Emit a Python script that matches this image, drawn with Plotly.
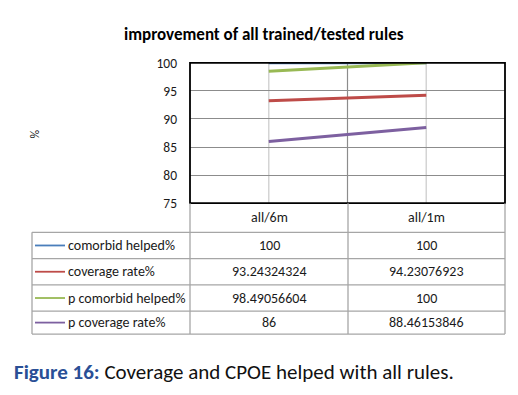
import plotly.graph_objects as go

# page body has an 8px margin; size figure so the page is exactly 518x395
OFF = 8
W, H = 518 - 2 * OFF, 395 - 2 * OFF

categories = ["all/6m", "all/1m"]
series_names = ["comorbid helped%", "coverage rate%", "p comorbid helped%", "p coverage rate%"]
comorbid_helped = [100, 100]
coverage_rate = [93.24324324, 94.23076923]
p_comorbid_helped = [98.49056604, 100]
p_coverage_rate = [86, 88.46153846]
y_ticks = [75, 80, 85, 90, 95, 100]

series_values = [comorbid_helped, coverage_rate, p_comorbid_helped, p_coverage_rate]
colors = ["#4a7ebb", "#be4b48", "#98b954", "#7d60a0"]

FONT = "Carlito, Lato"

# plot area in page pixels
PL, PR, PT, PB = 190, 505, 57, 204


def px(x):
    return (x - OFF) / W


def py(y):
    return 1 - (y - OFF) / H


fig = go.Figure()
for name, vals, c in zip(series_names, series_values, colors):
    fig.add_trace(go.Scatter(x=categories, y=vals, mode="lines", name=name,
                             line=dict(color=c, width=3), cliponaxis=False))

shapes = []
# vertical gridlines inside plot
for xv in [0, 1]:
    shapes.append(dict(type="line", xref="x", yref="paper", x0=xv, x1=xv,
                       y0=py(PB), y1=py(PT), line=dict(color="#d4d4d4", width=1.5), layer="below"))
shapes.append(dict(type="line", xref="x", yref="paper", x0=0.5, x1=0.5,
                   y0=py(PB), y1=py(PT), line=dict(color="#8c8c8c", width=1.2), layer="below"))
# plot border
shapes.append(dict(type="rect", xref="paper", yref="paper", x0=px(PL), x1=px(PR),
                   y0=py(PB), y1=py(PT), line=dict(color="#000000", width=1.8)))

# table
TL = 32
col_x = [TL, PL, 348, PR]
row_y = [PB, 234.5, 262, 289.5, 317, 341]
tcol = "#a6a6a6"
for i, yv in enumerate(row_y):
    if i == 0:
        continue
    shapes.append(dict(type="line", xref="paper", yref="paper", x0=px(TL), x1=px(PR),
                       y0=py(yv), y1=py(yv), line=dict(color=tcol, width=1.3)))
for j, xv in enumerate(col_x):
    y0 = row_y[1] if j == 0 else row_y[0]
    shapes.append(dict(type="line", xref="paper", yref="paper", x0=px(xv), x1=px(xv),
                       y0=py(y0), y1=py(row_y[-1]), line=dict(color=tcol, width=1.3)))

annotations = []
cell_font = dict(family=FONT, size=14, color="#1a1a1a")
for k, cat in enumerate(categories):
    cx = (col_x[k + 1] + col_x[k + 2]) / 2
    annotations.append(dict(x=px(cx), y=py((row_y[0] + row_y[1]) / 2), xref="paper", yref="paper",
                            text=cat, showarrow=False, font=cell_font,
                            xanchor="center", yanchor="middle"))


def fmt(v):
    return f"{v:.8f}".rstrip("0").rstrip(".")


for r, (name, vals, c) in enumerate(zip(series_names, series_values, colors)):
    yc = (row_y[r + 1] + row_y[r + 2]) / 2
    shapes.append(dict(type="line", xref="paper", yref="paper", x0=px(35), x1=px(65),
                       y0=py(yc), y1=py(yc), line=dict(color=c, width=1.8)))
    annotations.append(dict(x=px(66), y=py(yc), xref="paper", yref="paper", text=name,
                            showarrow=False, font=cell_font, xanchor="left", yanchor="middle"))
    for k, v in enumerate(vals):
        cx = (col_x[k + 1] + col_x[k + 2]) / 2
        annotations.append(dict(x=px(cx), y=py(yc), xref="paper", yref="paper", text=fmt(v),
                                showarrow=False, font=cell_font, xanchor="center", yanchor="middle"))

# title
annotations.append(dict(x=px(264), y=py(27), xref="paper", yref="paper",
                        text="<b>improvement of all trained/tested rules</b>", showarrow=False,
                        font=dict(family=FONT, size=17, color="#000000"),
                        xanchor="center", yanchor="middle"))
# y label
annotations.append(dict(x=px(35), y=py(132), xref="paper", yref="paper", text="%",
                        showarrow=False, textangle=-90,
                        font=dict(family=FONT, size=12, color="#1a1a1a"),
                        xanchor="center", yanchor="middle"))
# caption
annotations.append(dict(x=px(12), y=py(381), xref="paper", yref="paper",
                        text="<b><span style='color:#2a4f96'>Figure 16:</span></b> Coverage and CPOE helped with all rules.",
                        showarrow=False, font=dict(family=FONT, size=21, color="#111111"),
                        xanchor="left", yanchor="middle"))

fig.update_layout(
    width=W, height=H, autosize=False,
    margin=dict(l=0, r=0, t=0, b=0),
    paper_bgcolor="white", plot_bgcolor="white",
    showlegend=False,
    shapes=shapes, annotations=annotations,
    xaxis=dict(domain=[px(PL), px(PR)], type="category", range=[-0.5, 1.5],
               showticklabels=False, showgrid=False, zeroline=False, fixedrange=True),
    yaxis=dict(domain=[py(PB), py(PT)], range=[75, 100], tickvals=y_ticks,
               ticktext=[str(t) for t in y_ticks], showgrid=True, gridcolor="#8c8c8c",
               gridwidth=1.2, zeroline=False, ticks="", ticklabelstandoff=12,
               tickfont=dict(family=FONT, size=13.5, color="#1a1a1a"), fixedrange=True),
)

fig.write_html("out.html", config={"displayModeBar": False})
